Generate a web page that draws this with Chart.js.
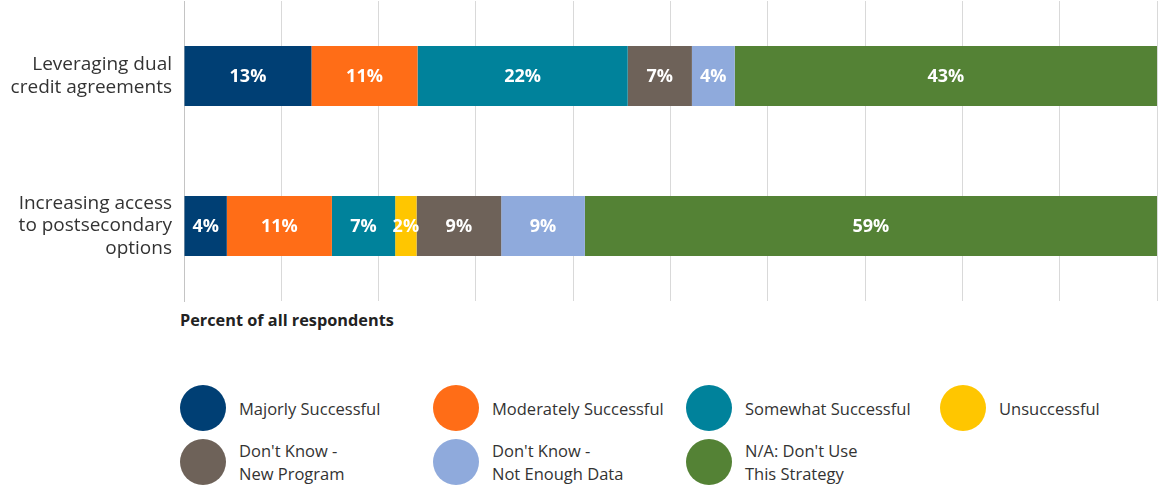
<!DOCTYPE html>
<html>
<head>
<meta charset="utf-8">
<script src="https://cdn.jsdelivr.net/npm/chart.js@4"></script>
<style>
  body { margin: 0; background: #fff; font-family: "Open Sans", sans-serif; }
  #wrap { position: relative; width: 1160px; height: 485px; }
  #chart_strategies { position: absolute; left: 0; top: 0; }
  #axis-title { position: absolute; left: 180px; top: 309px; font-size: 16.3px; font-weight: bold; color: #222; }
  .leg-item { position: absolute; display: flex; align-items: center; }
  .leg-dot { width: 46px; height: 46px; border-radius: 50%; margin-right: 13px; flex: none; }
  .leg-text { font-size: 16.5px; line-height: 23px; color: #333; }
</style>
</head>
<body>
<div id="wrap">
  <canvas id="chart_strategies" width="1160" height="305"></canvas>
  <div id="axis-title">Percent of all respondents</div>
  <div id="legend-div"></div>
</div>
<script>
var categories = [
  ['Leveraging dual', 'credit agreements'],
  ['Increasing access', 'to postsecondary', 'options']
];
var series_names = [
  'Majorly Successful',
  'Moderately Successful',
  'Somewhat Successful',
  'Unsuccessful',
  "Don't Know - New Program",
  "Don't Know - Not Enough Data",
  "N/A: Don't Use This Strategy"
];
var legend_lines = [
  ['Majorly Successful'],
  ['Moderately Successful'],
  ['Somewhat Successful'],
  ['Unsuccessful'],
  ["Don't Know -", 'New Program'],
  ["Don't Know -", 'Not Enough Data'],
  ["N/A: Don't Use", 'This Strategy']
];
var majorly = [13.1, 4.4];
var moderately = [10.9, 10.8];
var somewhat = [21.6, 6.5];
var unsuccessful = [0, 2.2];
var dk_new = [6.6, 8.7];
var dk_data = [4.4, 8.6];
var not_used = [43.4, 58.8];
var colors = ['#003f74', '#ff6d17', '#00829b', '#ffc600', '#6e6259', '#8faadc', '#548235'];

var series_values = [majorly, moderately, somewhat, unsuccessful, dk_new, dk_data, not_used];
var chart;

var barLabels = {
  id: 'barLabels',
  afterDatasetsDraw: function (c) {
    var ctx = c.ctx;
    ctx.save();
    ctx.fillStyle = '#fff';
    ctx.font = 'bold 18px "Open Sans", sans-serif';
    ctx.textAlign = 'center';
    ctx.textBaseline = 'middle';
    c.data.datasets.forEach(function (ds, i) {
      c.getDatasetMeta(i).data.forEach(function (bar, j) {
        var v = ds.data[j];
        if (!v) return;
        var p = bar.getProps(['x', 'y', 'base'], true);
        ctx.fillText(Math.round(v) + '%', (p.x + p.base) / 2, p.y + 1);
      });
    });
    ctx.restore();
  }
};

function make_chart() {
  var ctx = document.getElementById('chart_strategies').getContext('2d');
  var datasets = series_names.map(function (name, i) {
    return {
      label: name,
      data: series_values[i],
      backgroundColor: colors[i],
      borderWidth: 0,
      barPercentage: 0.4,
      categoryPercentage: 1
    };
  });

  chart = new Chart(ctx, {
    type: 'bar',
    data: { labels: categories, datasets: datasets },
    plugins: [barLabels],
    options: {
      indexAxis: 'y',
      responsive: false,
      animation: false,
      layout: { padding: { top: 1, right: 3, bottom: 4, left: 0 } },
      plugins: { legend: { display: false }, tooltip: { enabled: false } },
      scales: {
        x: {
          stacked: true,
          min: 0,
          max: 100,
          ticks: { display: false, stepSize: 10 },
          grid: { color: '#d9d9d9', drawTicks: false },
          border: { display: false },
          afterFit: function (s) { s.height = 0; s.paddingLeft = 0; s.paddingRight = 0; }
        },
        y: {
          stacked: true,
          afterFit: function (s) { s.width = 184; s.paddingTop = 0; s.paddingBottom = 0; },
          ticks: {
            padding: 12,
            color: '#333',
            font: { family: '"Open Sans", sans-serif', size: 19, lineHeight: 1.2 }
          },
          grid: { display: false, drawTicks: false },
          border: { color: '#c4c4c4' }
        }
      }
    }
  });
}

function make_legend() {
  var div = document.getElementById('legend-div');
  var cols = [180, 433, 686, 940];
  var rows = [385, 439];
  for (var i = 0; i < series_names.length; i++) {
    var item = document.createElement('div');
    item.className = 'leg-item';
    item.style.left = cols[i % 4] + 'px';
    item.style.top = rows[Math.floor(i / 4)] + 'px';
    var dot = document.createElement('div');
    dot.className = 'leg-dot';
    dot.style.background = colors[i];
    var txt = document.createElement('div');
    txt.className = 'leg-text';
    txt.innerHTML = legend_lines[i].join('<br>');
    item.appendChild(dot);
    item.appendChild(txt);
    div.appendChild(item);
  }
}

make_chart();
make_legend();
</script>
</body>
</html>
